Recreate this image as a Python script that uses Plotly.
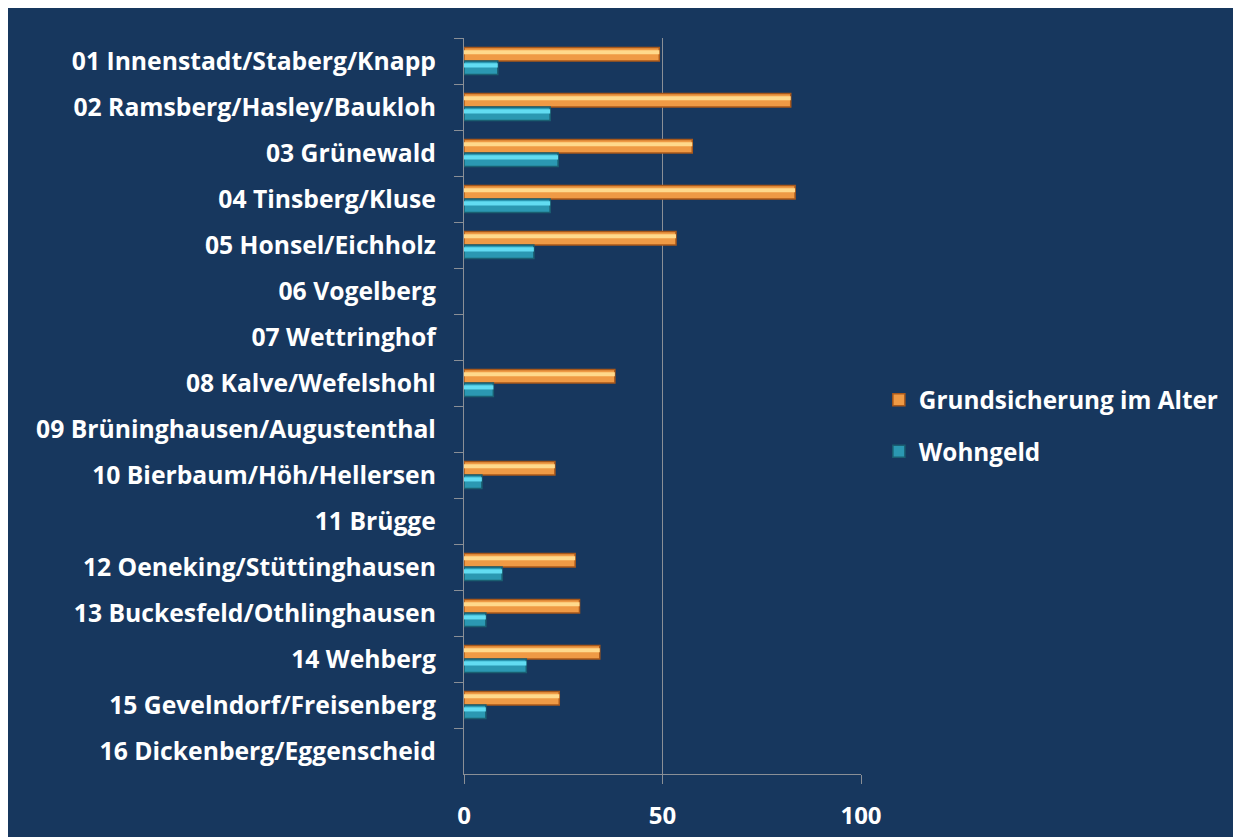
import plotly.graph_objects as go

categories = [
    "01 Innenstadt/Staberg/Knapp",
    "02 Ramsberg/Hasley/Baukloh",
    "03 Grünewald",
    "04 Tinsberg/Kluse",
    "05 Honsel/Eichholz",
    "06 Vogelberg",
    "07 Wettringhof",
    "08 Kalve/Wefelshohl",
    "09 Brüninghausen/Augustenthal",
    "10 Bierbaum/Höh/Hellersen",
    "11 Brügge",
    "12 Oeneking/Stüttinghausen",
    "13 Buckesfeld/Othlinghausen",
    "14 Wehberg",
    "15 Gevelndorf/Freisenberg",
    "16 Dickenberg/Eggenscheid",
]
grundsicherung = [49.2, 82.3, 57.5, 83.4, 53.4, None, None, 38.0, None, 22.9, None, 28.0, 29.1, 34.2, 24.0, None]
wohngeld = [8.5, 21.7, 23.7, 21.7, 17.6, None, None, 7.4, None, 4.5, None, 9.6, 5.5, 15.7, 5.5, None]
x_ticks = [0, 50, 100]

BG = "#17375e"
FONT = "Open Sans"
GRID = "#8a8f96"
W = 0.295

fig = go.Figure()
# main bars
fig.add_trace(go.Bar(
    name="Grundsicherung im Alter", y=categories, x=grundsicherung, orientation="h",
    width=W, offset=-W, legendgroup="g",
    marker=dict(color="#ef9a45", line=dict(color="#a9581a", width=1.5)),
))
fig.add_trace(go.Bar(
    name="Wohngeld", y=categories, x=wohngeld, orientation="h",
    width=W, offset=0, legendgroup="w",
    marker=dict(color="#2b98b2", line=dict(color="#1a5f72", width=1.5)),
))
# glossy highlights
fig.add_trace(go.Bar(
    y=categories, x=grundsicherung, orientation="h", showlegend=False, hoverinfo="skip",
    width=0.09, offset=-W + 0.06,
    marker=dict(color="#ffd98c", line=dict(width=0)),
))
fig.add_trace(go.Bar(
    y=categories, x=wohngeld, orientation="h", showlegend=False, hoverinfo="skip",
    width=0.09, offset=0.05,
    marker=dict(color="#62dcf2", line=dict(width=0)),
))

fig.update_layout(
    width=1241, height=837,
    paper_bgcolor=BG, plot_bgcolor=BG,
    margin=dict(l=456, r=388, t=30, b=71),
    barmode="overlay",
    font=dict(family=FONT, color="white", size=24),
    showlegend=True,
    legend=dict(
        x=1.045, y=0.473, xanchor="left", yanchor="middle",
        font=dict(family=FONT, size=24.3, color="white", weight="bold"),
        bgcolor="rgba(0,0,0,0)", tracegroupgap=17, itemwidth=30,
    ),
)
fig.update_xaxes(
    range=[0, 100], tickvals=x_ticks, ticktext=[str(v) for v in x_ticks],
    showgrid=True, gridcolor=GRID, gridwidth=1.3, zeroline=False,
    showline=True, linecolor=GRID, linewidth=1.3,
    ticks="outside", ticklen=9, tickcolor=GRID, tickwidth=1.3,
    tickfont=dict(family=FONT, size=24, color="white", weight="bold"),
    ticklabelstandoff=11,
)
fig.update_yaxes(
    autorange="reversed", type="category", tickson="boundaries",
    showline=True, linecolor=GRID, linewidth=1.3,
    ticks="outside", ticklen=9, tickcolor=GRID, tickwidth=1.3,
    showgrid=False,
    tickfont=dict(family=FONT, size=24.7, color="white", weight="bold"),
    ticklabelstandoff=22,
)

fig.write_html("out.html")
